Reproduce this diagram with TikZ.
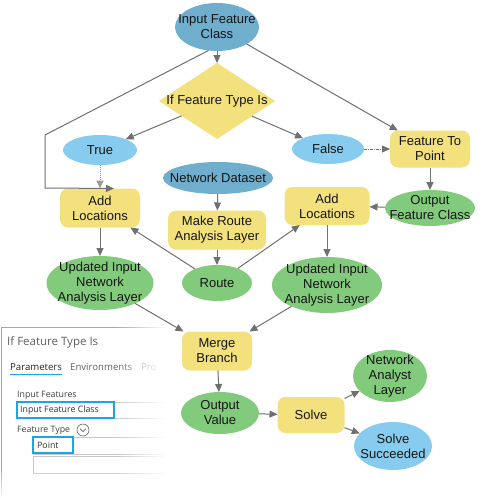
\documentclass[tikz,border=0pt]{standalone}
\usepackage{fontspec}
\setmainfont{Liberation Sans}
\newfontfamily\uifont{Open Sans}
\usetikzlibrary{shapes.geometric,arrows.meta,fadings}
\definecolor{dblue}{HTML}{6FAECC}
\definecolor{lblue}{HTML}{87CBEE}
\definecolor{ylw}{HTML}{F3E17E}
\definecolor{grn}{HTML}{83CB7C}
\definecolor{edge}{HTML}{707070}
\definecolor{txt}{HTML}{151515}
\definecolor{uiblue}{HTML}{1AA7E0}
\definecolor{uigray}{HTML}{C8C8C8}
\tikzset{
  shp/.style={inner sep=0pt, outer sep=0pt, draw=none,
    label={[align=center, font=\fontsize{13}{15}\selectfont, text=txt]center:#1}},
  ell/.style={shp=#1, ellipse},
  box/.style={shp=#1, rectangle, rounded corners=8pt, fill=ylw},
  dia/.style={shp=#1, diamond, fill=ylw},
  arr/.style={draw=edge, line width=1pt, -{Triangle[length=8pt,width=7pt]}},
  uitext/.style={font=\uifont\fontsize{9.6}{11}\selectfont, anchor=west, inner sep=0pt, text=#1},
  uismall/.style={uitext=#1, font=\uifont\fontsize{8.8}{10}\selectfont},
}
\begin{document}
\begin{tikzpicture}[x=1pt,y=-1pt]
\useasboundingbox (0,0) rectangle (485,498);
\fill[white] (0,0) rectangle (485,498);

% ---- properties panel
\draw[draw=gray!70, line width=0.8pt] (1,498) -- (1,327) -- (170,327);
\node[uitext=black!62, font=\uifont\fontsize{11.5}{13}\selectfont] (ptitle) at (7,342) {If Feature Type Is};
\node[uitext=black!85] (ptab1) at (10,367) {Parameters};
\draw[uiblue, line width=1.2pt] (10,374.5) -- (62,374.5);
\node[uitext=black!62] (ptab2) at (70,367) {Environments};
\node[uitext=black!45] (ptab3) at (141,367) {Pro};
\node[uismall=black!75] (pif) at (17,395) {Input Features};
\draw[uigray, line width=0.7pt] (17,402) rectangle (175,418);
\draw[uiblue, line width=1.6pt] (17,402) rectangle (114,418);
\node[uismall=black!80] (pifc) at (20,410) {Input Feature Class};
\node[uismall=black!75] (pft) at (17,430) {Feature Type};
\draw[black!60, line width=0.6pt] (83,430) circle (6pt);
\draw[black!60, line width=0.7pt] (80,428.5) -- (83,431.5) -- (86,428.5);
\draw[uigray, line width=0.7pt] (33,437) rectangle (175,454);
\draw[uiblue, line width=1.6pt] (33,437) rectangle (73,453);
\node[uismall=black!80] (ppt) at (37,445.5) {Point};
\draw[uigray, line width=0.7pt] (33,456) rectangle (175,473);
% fades
\fill[white, path fading=west] (115,320) rectangle (166,498);
\fill[white] (165,320) rectangle (178,498);
\fill[white, path fading=north] (0,468) rectangle (178,498);

% ---- nodes
\node[ell={Input Feature\\Class}, fill=dblue, minimum width=84pt, minimum height=48pt] (ifc) at (217,27) {};
\node[dia={If Feature Type Is}, minimum width=116pt, minimum height=76pt] (dia) at (217,101) {};
\node[ell={True}, fill=lblue, minimum width=74pt, minimum height=30pt] (true) at (100,150) {};
\node[ell={False}, fill=lblue, minimum width=72pt, minimum height=30pt] (false) at (328,149) {};
\node[box={Feature To\\Point}, minimum width=80pt, minimum height=37pt] (ftp) at (430,149) {};
\node[ell={Network Dataset}, fill=dblue, minimum width=110pt, minimum height=32pt] (nd) at (218,178) {};
\node[box={Add\\Locations}, minimum width=80pt, minimum height=39pt] (all) at (100,208) {};
\node[box={Make Route\\Analysis Layer}, minimum width=98pt, minimum height=39pt] (mr) at (217,230) {};
\node[box={Add\\Locations}, minimum width=85pt, minimum height=38pt] (alr) at (327,206) {};
\node[ell={Output\\Feature Class}, fill=grn, minimum width=90pt, minimum height=36pt] (ofc) at (430,208) {};
\node[ell={Updated Input\\Network\\Analysis Layer}, fill=grn, minimum width=107pt, minimum height=54pt] (ul) at (100,283) {};
\node[ell={Route}, fill=grn, minimum width=70pt, minimum height=36pt] (route) at (217,283) {};
\node[ell={Updated Input\\Network\\Analysis Layer}, fill=grn, minimum width=110pt, minimum height=56pt] (ur) at (327,285) {};
\node[box={Merge\\Branch}, minimum width=70pt, minimum height=39pt] (mb) at (217,351) {};
\node[ell={Output\\Value}, fill=grn, minimum width=78pt, minimum height=42pt] (ov) at (220,413) {};
\node[box={Solve}, minimum width=67pt, minimum height=36pt] (solve) at (311,415) {};
\node[ell={Network\\Analyst\\Layer}, fill=grn, minimum width=74pt, minimum height=52pt] (nal) at (390,376) {};
\node[ell={Solve\\Succeeded}, fill=lblue, minimum width=78pt, minimum height=48pt] (ss) at (393,446) {};

% ---- connectors
\draw[arr] (ifc) -- (dia);
\draw[arr] (ifc) -- (ftp);
\coordinate (lt) at (45,135);
\coordinate (lb) at (45,188);
\draw[arr] (ifc.250) -- (lt) -- (lb) -- ([xshift=14pt]all.north);
\draw[arr] (dia) -- (true);
\draw[arr] (dia) -- (false);
\draw[arr, densely dotted, draw=edge!70] (true) -- (all);
\draw[arr, densely dash dot] (false) -- (ftp);
\draw[arr] (ftp) -- (ofc);
\draw[arr] (ofc) -- (alr);
\draw[arr] (nd) -- (mr);
\draw[arr] (mr) -- (route);
\draw[arr] (route) -- (all);
\draw[arr] (route) -- (alr);
\draw[arr] (all) -- (ul);
\draw[arr] (alr) -- (ur);
\draw[arr] (ul) -- (mb);
\draw[arr] (ur) -- (mb);
\draw[arr] (mb) -- (ov);
\draw[arr] (ov) -- (solve);
\draw[arr] (solve) -- (nal);
\draw[arr] (solve) -- (ss);
\end{tikzpicture}
\end{document}
